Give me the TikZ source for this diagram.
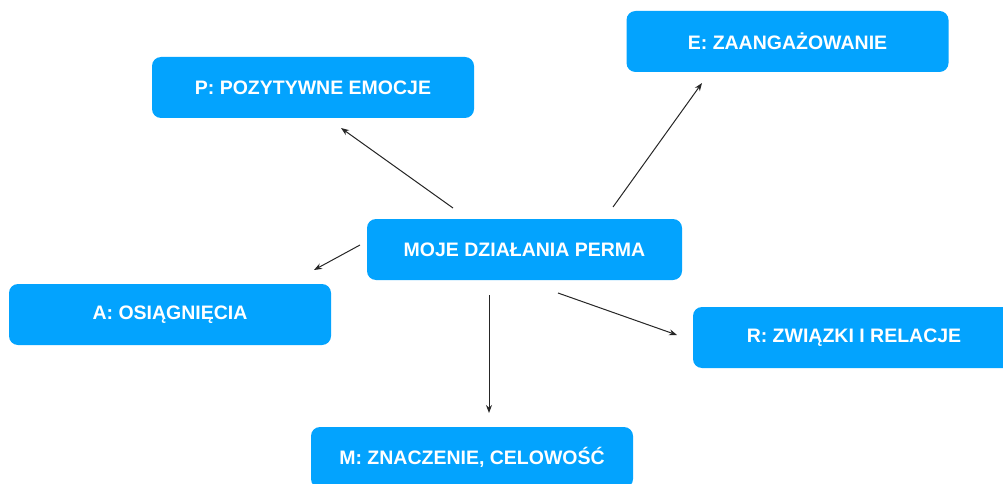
\documentclass[tikz,border=0pt]{standalone}
\usepackage{fontspec}
\setmainfont{Liberation Sans}
\usetikzlibrary{arrows.meta}
\begin{document}
\begin{tikzpicture}[x=1pt,y=-1pt,>={Stealth[length=8pt,width=6pt]},
  box/.style={fill=permablue,rounded corners=9pt,minimum width=322pt,minimum height=61pt,
    text=white,font=\fontsize{19.5}{21}\selectfont\bfseries,inner sep=0pt},
  link/.style={->,draw=black!85,line width=1pt}]
\definecolor{permablue}{HTML}{03A3FE}
\useasboundingbox (0,0) rectangle (1003,484);
\node[box,minimum width=315pt] (M0) at (524.5,249.5) {MOJE DZIAŁANIA PERMA};
\node[box] (P) at (313,87.5) {P: POZYTYWNE EMOCJE};
\node[box] (E) at (787.5,41.5) {E: ZAANGAŻOWANIE};
\node[box] (A) at (170,314.5) {A: OSIĄGNIĘCIA};
\node[box] (R) at (854,337.5) {R: ZWIĄZKI I RELACJE};
\node[box] (M) at (472,457.5) {M: ZNACZENIE, CELOWOŚĆ};
% arrow ends
\coordinate (p0) at (453,208); \coordinate (p1) at (341,128);
\coordinate (e0) at (613,207); \coordinate (e1) at (702,83);
\coordinate (a0) at (360,245); \coordinate (a1) at (314,270);
\coordinate (m0) at (489,295); \coordinate (m1) at (489,413);
\coordinate (r0) at (558,293); \coordinate (r1) at (677,335);
\draw[link] (p0) -- (p1);
\draw[link] (e0) -- (e1);
\draw[link] (a0) -- (a1);
\draw[link] (m0) -- (m1);
\draw[link] (r0) -- (r1);
\end{tikzpicture}
\end{document}
